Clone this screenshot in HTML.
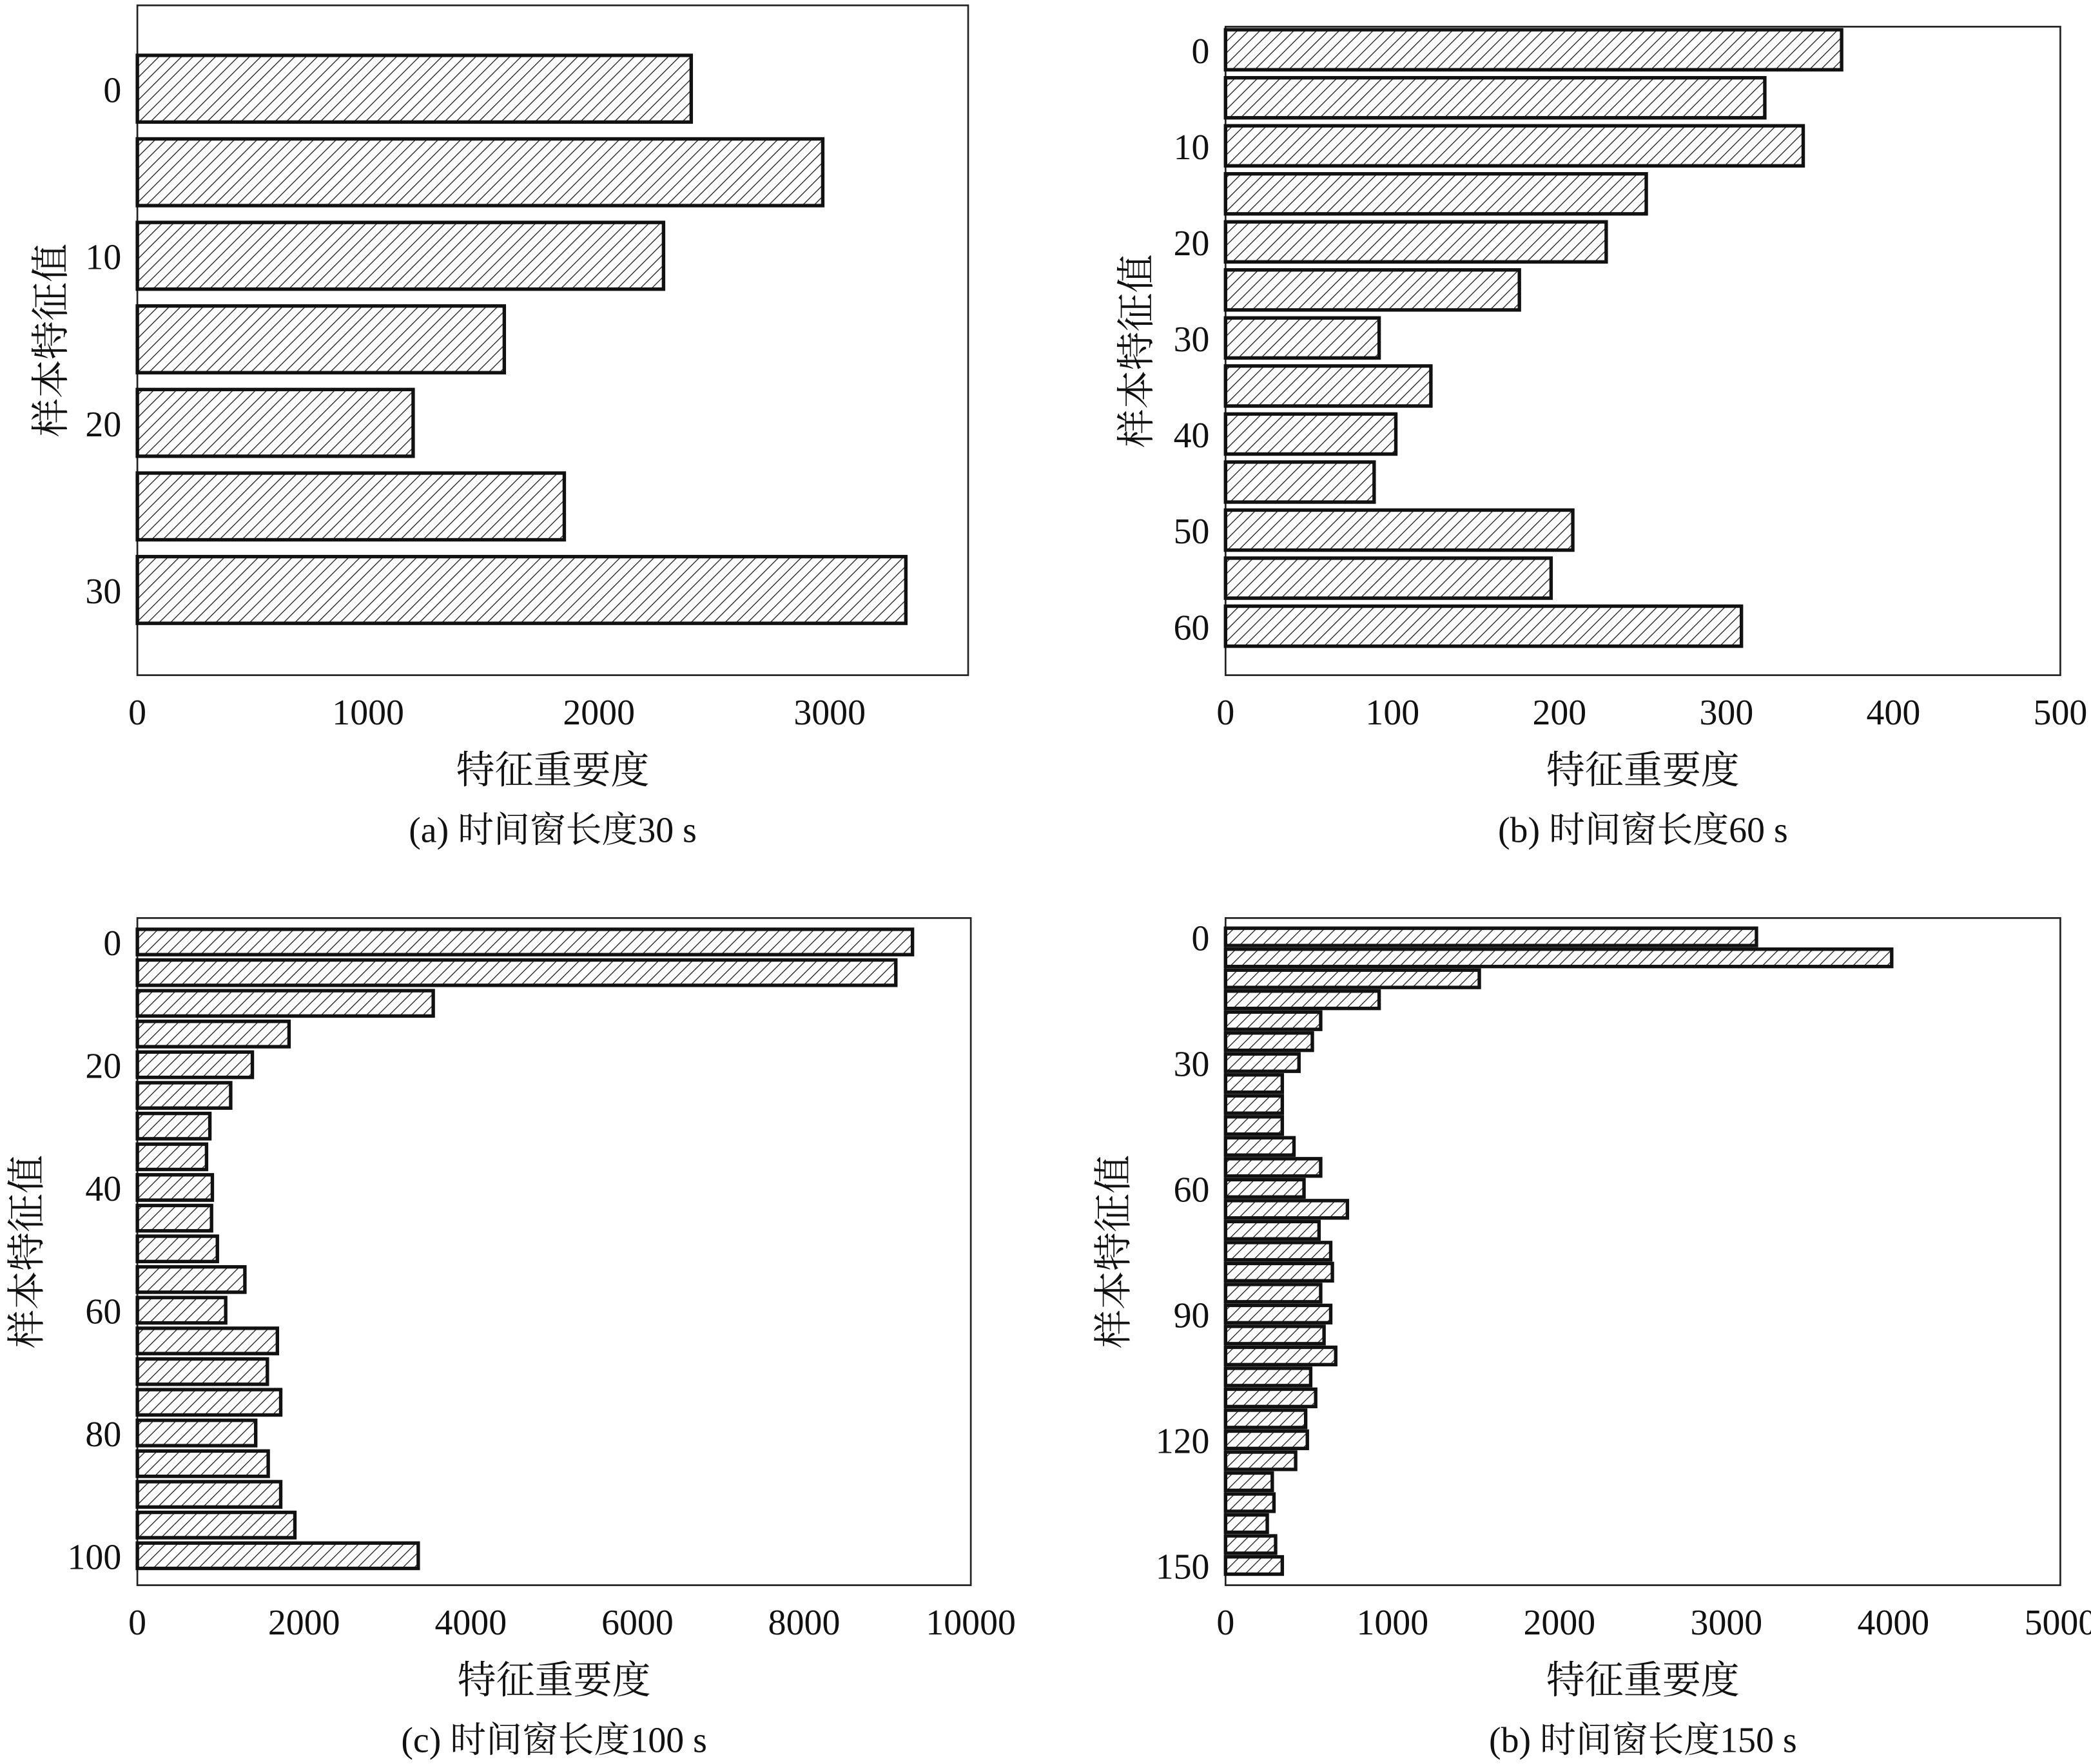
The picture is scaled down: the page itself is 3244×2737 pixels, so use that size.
<!DOCTYPE html>
<html><head><meta charset="utf-8"><style>
html,body{margin:0;padding:0;background:#fff}
svg{display:block}
text{font-family:"Liberation Serif","Noto Serif CJK SC",serif;fill:#111}
</style></head><body>
<svg id="fig" width="3244" height="2737" viewBox="0 0 1568 1322" preserveAspectRatio="none" xmlns="http://www.w3.org/2000/svg">
<defs><pattern id="hatch" patternUnits="userSpaceOnUse" width="6" height="6" patternTransform="rotate(45)"><rect width="6" height="6" fill="#fff"/><line x1="0" y1="0" x2="0" y2="6" stroke="#222" stroke-width="1.3"/></pattern></defs>
</svg>
<script>
const catsA=[0,5,10,15,20,25,30];
const valsA=[2400,2970,2280,1590,1195,1850,3330];
const ticksXA=[0,1000,2000,3000];
const ticksYA=[0,10,20,30];
const catsB=[0,5,10,15,20,25,30,35,40,45,50,55,60];
const valsB=[369,323,346,252,228,176,92,123,102,89,208,195,309];
const ticksXB=[0,100,200,300,400,500];
const ticksYB=[0,10,20,30,40,50,60];
const catsC=[0,5,10,15,20,25,30,35,40,45,50,55,60,65,70,75,80,85,90,95,100];
const valsC=[9300,9100,3550,1820,1380,1120,870,830,900,890,960,1290,1060,1680,1560,1720,1420,1570,1720,1890,3370];
const ticksXC=[0,2000,4000,6000,8000,10000];
const ticksYC=[0,20,40,60,80,100];
const catsD=[0,5,10,15,20,25,30,35,40,45,50,55,60,65,70,75,80,85,90,95,100,105,110,115,120,125,130,135,140,145,150];
const valsD=[3180,3990,1520,920,570,520,440,340,340,340,410,570,470,730,560,630,640,570,630,590,660,510,540,480,490,420,280,290,250,300,340];
const ticksXD=[0,1000,2000,3000,4000,5000];
const ticksYD=[0,30,60,90,120,150];
const captions=["(a) 时间窗长度30 s","(b) 时间窗长度60 s","(c) 时间窗长度100 s","(b) 时间窗长度150 s"];
const NS="http://www.w3.org/2000/svg";
const svg=document.getElementById('fig');
function mk(tag,attrs,parent){const e=document.createElementNS(NS,tag);for(const k in attrs)e.setAttribute(k,attrs[k]);(parent||svg).appendChild(e);return e;}
function panel(id,box,xmax,ymin,ymax,cats,vals,tx,ty,barH,cap,ylabX){
 const g=mk('g',{});
 
 
 const [x0,y0,x1,y1]=box;
 const sx=v=>x0+(v/xmax)*(x1-x0);
 const sy=v=>y0+(v-ymin)/(ymax-ymin)*(y1-y0);
 const frame=mk('rect',{x:x0,y:y0,width:x1-x0,height:y1-y0,fill:'none',stroke:'#222','stroke-width':1.3},g);
 
 
 cats.forEach((c,i)=>{
  const r=mk('rect',{x:x0,y:sy(c)-barH/2,width:sx(vals[i])-x0,height:barH,fill:'url(#hatch)',stroke:'#111','stroke-width':2.6},g);
  
  
 });
 tx.forEach(t=>{
  const e=mk('text',{x:sx(t),y:y1+37,'text-anchor':'middle','font-size':27},g);e.textContent=t;
  
  
 });
 ty.forEach(t=>{
  const e=mk('text',{x:x0-12,y:sy(t)+10,'text-anchor':'end','font-size':27},g);e.textContent=t;
  
  
 });
 const xt=mk('text',{x:(x0+x1)/2,y:y1+81,'text-anchor':'middle','font-size':29,'font-family':'"Noto Sans CJK SC",sans-serif'},g);xt.textContent='特征重要度';
 
 
 const cp=mk('text',{x:(x0+x1)/2,y:y1+125,'text-anchor':'middle','font-size':27},g);cp.textContent=cap;
 
 
 const cy=(y0+y1)/2;
 const yt=mk('text',{x:ylabX,y:cy,'text-anchor':'middle','font-size':29,'font-family':'"Noto Sans CJK SC",sans-serif',transform:'rotate(-90 '+ylabX+' '+cy+')'},g);yt.textContent='样本特征值';
 
 
}
panel('panel-a',[103,4,726,506],3600,-4.99,35.1,catsA,valsA,ticksXA,ticksYA,50,captions[0],48);
panel('panel-b',[919,20,1545,506],500,-2.4,65.1,catsB,valsB,ticksXB,ticksYB,30,captions[1],862);
panel('panel-c',[103,688,728,1188],10000,-3.9,104.8,catsC,valsC,ticksXC,ticksYC,19,captions[2],30);
panel('panel-d',[919,688,1545,1188],5000,-4.5,154.7,catsD,valsD,ticksXD,ticksYD,13,captions[3],845);
</script>
</body></html>
